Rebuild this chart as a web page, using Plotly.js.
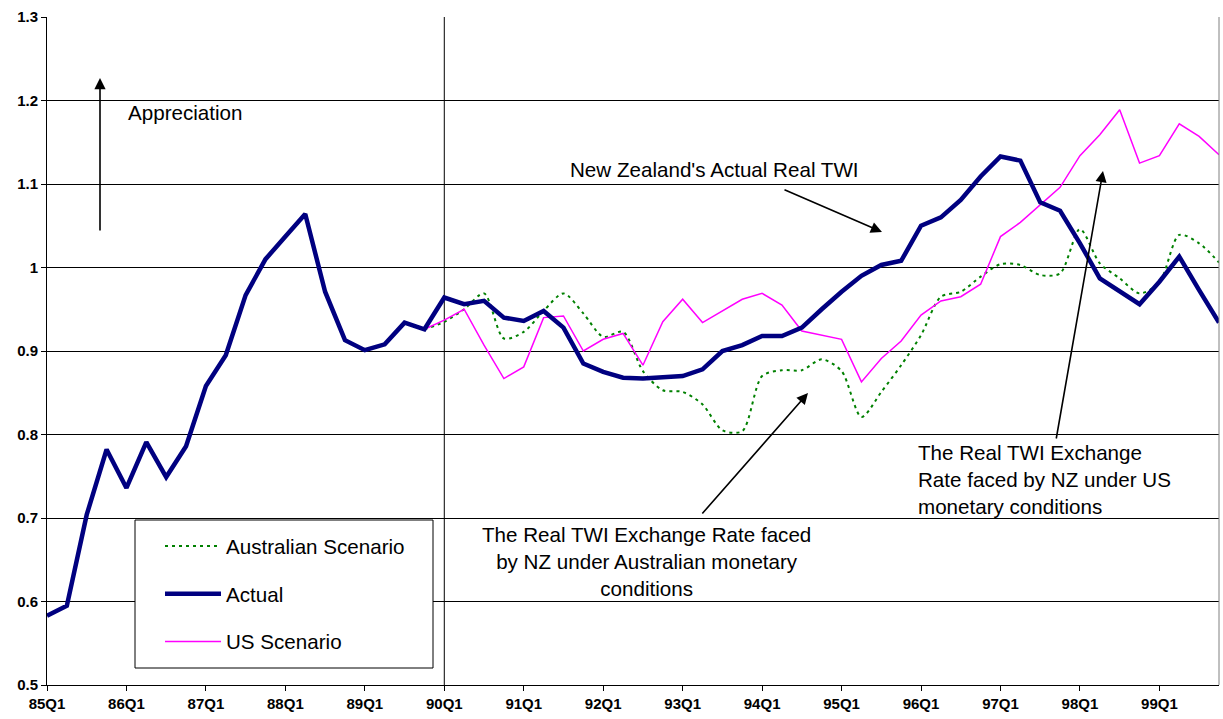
<!DOCTYPE html>
<html>
<head>
<meta charset="utf-8">
<script src="https://cdn.plot.ly/plotly-3.0.1.min.js"></script>
<style>
  html, body { margin: 0; padding: 0; background: #ffffff; }
  #chart { width: 1223px; height: 719px; }
</style>
</head>
<body>
<div id="chart"></div>
<script>
// Quarterly categories, 85Q1 .. 99Q4
var quarters = [
  "85Q1","85Q2","85Q3","85Q4","86Q1","86Q2","86Q3","86Q4",
  "87Q1","87Q2","87Q3","87Q4","88Q1","88Q2","88Q3","88Q4",
  "89Q1","89Q2","89Q3","89Q4","90Q1","90Q2","90Q3","90Q4",
  "91Q1","91Q2","91Q3","91Q4","92Q1","92Q2","92Q3","92Q4",
  "93Q1","93Q2","93Q3","93Q4","94Q1","94Q2","94Q3","94Q4",
  "95Q1","95Q2","95Q3","95Q4","96Q1","96Q2","96Q3","96Q4",
  "97Q1","97Q2","97Q3","97Q4","98Q1","98Q2","98Q3","98Q4",
  "99Q1","99Q2","99Q3","99Q4"
];

// Tick labels
var xTickLabels = ["85Q1","86Q1","87Q1","88Q1","89Q1","90Q1","91Q1","92Q1","93Q1","94Q1","95Q1","96Q1","97Q1","98Q1","99Q1"];
var yTickVals = [0.5, 0.6, 0.7, 0.8, 0.9, 1.0, 1.1, 1.2, 1.3];
var yTickText = ["0.5","0.6","0.7","0.8","0.9","1","1.1","1.2","1.3"];

// New Zealand's actual real TWI (85Q1 .. 99Q4)
var actualValues = [
  0.583, 0.595, 0.704, 0.782, 0.736, 0.791, 0.749, 0.786, 0.858, 0.895,
  0.967, 1.010, 1.037, 1.064, 0.971, 0.913, 0.901, 0.908, 0.934, 0.926,
  0.964, 0.956, 0.960, 0.940, 0.936, 0.948, 0.928, 0.885, 0.875, 0.868,
  0.867, 0.869, 0.870, 0.878, 0.900, 0.907, 0.918, 0.918, 0.928, 0.950,
  0.971, 0.990, 1.003, 1.008, 1.050, 1.060, 1.081, 1.109, 1.133, 1.128,
  1.078, 1.068, 1.029, 0.987, 0.971, 0.956, 0.983, 1.013, 0.973, 0.934
];

// Scenario series start at 89Q4
var scenarioQuarters = quarters.slice(19);

// Australian monetary conditions scenario (89Q4 .. 99Q4)
var ausValues = [
  0.926, 0.935, 0.950, 0.969, 0.915, 0.923, 0.948, 0.969, 0.945, 0.917,
  0.923, 0.876, 0.853, 0.851, 0.836, 0.805, 0.804, 0.870, 0.877, 0.877,
  0.890, 0.876, 0.821, 0.851, 0.883, 0.919, 0.965, 0.971, 0.989, 1.004,
  1.003, 0.991, 0.993, 1.046, 1.005, 0.987, 0.969, 0.982, 1.039, 1.029,
  1.006
];

// US monetary conditions scenario (89Q4 .. 99Q4)
var usValues = [
  0.926, 0.937, 0.950, 0.907, 0.867, 0.881, 0.940, 0.942, 0.900, 0.914,
  0.921, 0.883, 0.935, 0.962, 0.934, 0.948, 0.962, 0.969, 0.955, 0.924,
  0.919, 0.914, 0.863, 0.891, 0.912, 0.943, 0.960, 0.965, 0.980, 1.037,
  1.054, 1.075, 1.096, 1.134, 1.159, 1.189, 1.125, 1.134, 1.172, 1.157,
  1.135
];

var FONT = "Liberation Sans, Arial, Helvetica, sans-serif";

var traces = [
  {
    name: "Australian Scenario",
    x: scenarioQuarters, y: ausValues,
    type: "scatter", mode: "lines",
    line: { color: "#008000", width: 2, dash: "3px,4px", shape: "spline", smoothing: 0.8 },
    legendgroup: "a", legendrank: 1,
    hoverinfo: "skip"
  },
  {
    name: "US Scenario",
    x: scenarioQuarters, y: usValues,
    type: "scatter", mode: "lines",
    line: { color: "#FF00FF", width: 1.5 },
    legendgroup: "c", legendrank: 3,
    hoverinfo: "skip"
  },
  {
    name: "Actual",
    x: quarters, y: actualValues,
    type: "scatter", mode: "lines",
    line: { color: "#000080", width: 4.5 },
    legendgroup: "b", legendrank: 2,
    hoverinfo: "skip"
  }
];

// helpers: pixel -> paper
var PL = 47, PR = 1219, PT = 17, PB = 685;
function px(x) { return (x - PL) / (PR - PL); }
function py(y) { return (PB - y) / (PB - PT); }

var annFont = { family: FONT, size: 20.6, color: "#000000" };

var layout = {
  width: 1223, height: 719,
  margin: { l: 47, r: 4, t: 17, b: 34, pad: 0 },
  paper_bgcolor: "#ffffff",
  plot_bgcolor: "#ffffff",
  font: { family: FONT, color: "#000000" },
  showlegend: true,
  legend: {
    x: px(160), y: py(526), xanchor: "left", yanchor: "top",
    bgcolor: "rgba(0,0,0,0)", borderwidth: 0,
    font: { family: FONT, size: 20.6, color: "#000000" },
    itemwidth: 56,
    traceorder: "grouped",
    tracegroupgap: 18
  },
  xaxis: {
    type: "category",
    categoryorder: "array",
    categoryarray: quarters,
    range: [0, 59],
    tickvals: xTickLabels,
    ticktext: xTickLabels,
    ticks: "outside", ticklen: 5, tickwidth: 1, tickcolor: "#000000",
    showline: true, linecolor: "#000000", linewidth: 1,
    showgrid: false, zeroline: false,
    tickfont: { family: FONT, size: 15, color: "#000000", weight: "bold" },
    fixedrange: true
  },
  yaxis: {
    range: [0.5, 1.3],
    tickvals: yTickVals,
    ticktext: yTickText,
    ticks: "outside", ticklen: 5, tickwidth: 1, tickcolor: "#000000",
    showline: true, linecolor: "#000000", linewidth: 1,
    showgrid: true, gridcolor: "#000000", gridwidth: 1,
    zeroline: false,
    tickfont: { family: FONT, size: 15, color: "#000000", weight: "bold" },
    fixedrange: true
  },
  shapes: [
    // vertical marker line at 90Q1
    { type: "line", xref: "x", yref: "paper", x0: "90Q1", x1: "90Q1", y0: 0, y1: 1,
      line: { color: "#000000", width: 1 }, layer: "below" },
    // right plot-area border
    { type: "line", xref: "paper", yref: "paper", x0: 1, x1: 1, y0: 0, y1: 1,
      line: { color: "#808080", width: 1 } },
    // legend box
    { type: "rect", xref: "paper", yref: "paper",
      x0: px(135), x1: px(433), y0: py(668), y1: py(520),
      fillcolor: "#ffffff", line: { color: "#000000", width: 1 }, layer: "above" }
  ],
  annotations: [
    // Appreciation arrow + label
    { xref: "paper", yref: "paper", x: px(100), y: py(78), text: "",
      showarrow: true, arrowhead: 2, arrowsize: 1.4, arrowwidth: 1.6, arrowcolor: "#000000",
      axref: "pixel", ayref: "pixel", ax: 0, ay: 154, standoff: 0 },
    { xref: "paper", yref: "paper", x: px(126), y: py(112), xanchor: "left", yanchor: "middle",
      text: "Appreciation", showarrow: false, font: annFont },

    // New Zealand's actual real TWI
    { xref: "paper", yref: "paper", x: px(714), y: py(169), xanchor: "center", yanchor: "middle",
      text: "New Zealand's Actual Real TWI", showarrow: false, font: annFont },
    { xref: "paper", yref: "paper", x: px(882), y: py(232), text: "",
      showarrow: true, arrowhead: 2, arrowsize: 1.4, arrowwidth: 1.6, arrowcolor: "#000000",
      axref: "pixel", ayref: "pixel", ax: -99, ay: -43, standoff: 0 },

    // Australian scenario label
    { xref: "paper", yref: "paper", x: px(646), y: py(561), xanchor: "center", yanchor: "middle",
      align: "center",
      text: "The Real TWI Exchange Rate faced<br>by NZ under Australian monetary<br>conditions",
      showarrow: false, font: annFont },
    { xref: "paper", yref: "paper", x: px(808), y: py(393), text: "",
      showarrow: true, arrowhead: 2, arrowsize: 1.4, arrowwidth: 1.6, arrowcolor: "#000000",
      axref: "pixel", ayref: "pixel", ax: -107, ay: 122, standoff: 0 },

    // US scenario label
    { xref: "paper", yref: "paper", x: px(916), y: py(480), xanchor: "left", yanchor: "middle",
      align: "left",
      text: "The Real TWI Exchange<br>Rate faced by NZ under US<br>monetary conditions",
      showarrow: false, font: annFont },
    { xref: "paper", yref: "paper", x: px(1103), y: py(171), text: "",
      showarrow: true, arrowhead: 2, arrowsize: 1.4, arrowwidth: 1.6, arrowcolor: "#000000",
      axref: "pixel", ayref: "pixel", ax: -47, ay: 269, standoff: 0 }
  ]
};

Plotly.newPlot("chart", traces, layout, { displayModeBar: false, staticPlot: true });
</script>
</body>
</html>
